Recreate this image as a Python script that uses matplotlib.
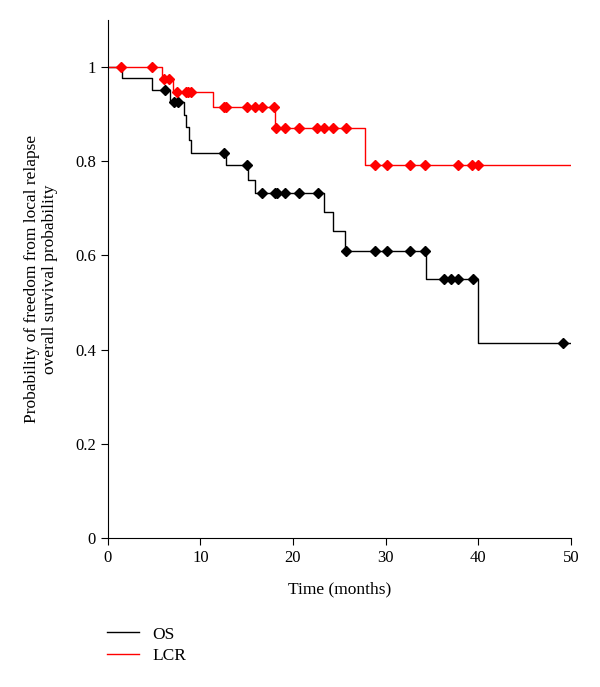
import numpy as np
import matplotlib
matplotlib.use("Agg")
import matplotlib.pyplot as plt

plt.rcParams['font.family'] = ['Liberation Serif', 'DejaVu Serif']

# Kaplan-Meier steps (time in months, survival after the step)
os_times = [0, 1.5, 4.8, 6.7, 8.2, 8.5, 8.8, 9.0, 12.8, 15.1, 15.9, 23.3, 24.3, 25.6, 34.4, 40.0]
os_surv = [1.0, 0.976, 0.951, 0.925, 0.899, 0.873, 0.846, 0.818, 0.791, 0.760, 0.733,
           0.692, 0.652, 0.610, 0.550, 0.414]
os_censor = [6.2, 7.2, 7.6, 12.5, 15.0, 16.7, 18.1, 18.3, 19.1, 20.6, 22.7, 25.7, 28.8,
             30.1, 32.6, 34.2, 36.3, 37.1, 37.8, 39.4, 49.1]

lcr_times = [0, 5.9, 7.1, 11.4, 18.1, 27.8]
lcr_surv = [1.0, 0.974, 0.948, 0.915, 0.870, 0.792]
lcr_censor = [1.4, 4.8, 6.1, 6.6, 7.5, 8.4, 8.7, 9.0, 12.5, 12.8, 15.0, 15.9, 16.7, 18.0,
              18.2, 19.1, 20.6, 22.6, 23.4, 24.3, 25.7, 28.8, 30.1, 32.6, 34.3, 37.8,
              39.3, 40.0]

t_end = 50


def km_at(times, surv, t):
    idx = np.searchsorted(times, t, side='right') - 1
    return np.asarray(surv)[idx]


fig = plt.figure(figsize=(6, 6.87), dpi=100)
ax = fig.add_axes([0.1795, 0.217, 0.772, 0.754])

for times, surv, cens, col, lab in [(os_times, os_surv, os_censor, 'black', 'OS'),
                                    (lcr_times, lcr_surv, lcr_censor, 'red', 'LCR')]:
    x = list(times) + [t_end]
    y = list(surv) + [surv[-1]]
    ax.step(x, y, where='post', color=col, lw=1.0, label=lab)
    ax.plot(cens, km_at(times, surv, cens), ls='none', marker='D', ms=5.5,
            color=col, mec=col)

ax.set_xlim(0, 50)
ax.set_ylim(0, 1.1)
ax.set_xticks(range(0, 51, 10))
ax.set_yticks([0, 0.2, 0.4, 0.6, 0.8, 1.0])
ax.set_yticklabels(['0', '0.2', '0.4', '0.6', '0.8', '1'])
ax.spines['top'].set_visible(False)
ax.spines['right'].set_visible(False)
ax.tick_params(labelsize=12, length=5, width=0.8)
ax.set_xlabel('Time (months)', fontsize=12.5, labelpad=11)
ax.set_ylabel('Probability of freedom from local relapse\noverall survival probability',
              fontsize=12.5, labelpad=12)

fig.legend(loc='upper left', bbox_to_anchor=(0.153, 0.111), frameon=False,
           fontsize=12.5, handlelength=1.8, handletextpad=0.8, labelspacing=0.3)

fig.savefig('out.png', dpi=100)
